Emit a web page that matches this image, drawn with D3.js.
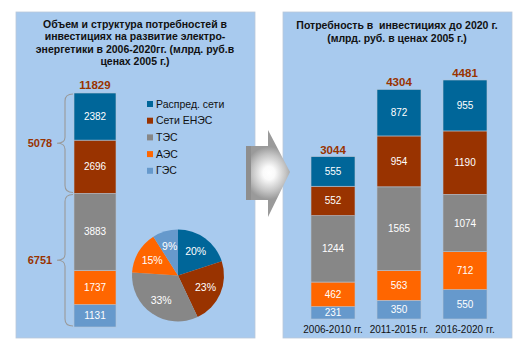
<!DOCTYPE html>
<html>
<head>
<meta charset="utf-8">
<script src="https://cdn.jsdelivr.net/npm/d3@7"></script>
<style>
html,body{margin:0;padding:0;background:#fff;}
svg{display:block;font-family:"Liberation Sans",Arial,sans-serif;}
text{white-space:pre;}
</style>
</head>
<body>
<svg id="chart" width="527" height="353"></svg>
<script>
// ---------- data ----------
const categories = ["Распред. сети", "Сети ЕНЭС", "ТЭС", "АЭС", "ГЭС"];
const colors = ["#006699", "#993300", "#878787", "#ff6600", "#6699cc"];
const totalValues = [2382, 2696, 3883, 1737, 1131];       // 2006-2020 by category
const pieShares = [20, 23, 33, 15, 9];                     // % labels of the pie
const groupNames = ["Сети", "Генерация"];
const groupMembers = [[0, 1], [2, 3, 4]];
const periods = ["2006-2010 гг.", "2011-2015 гг.", "2016-2020 гг."];
const distribValues = [555, 872, 955];
const uesValues = [552, 954, 1190];
const tppValues = [1244, 1565, 1074];
const nppValues = [462, 563, 712];
const hppValues = [231, 350, 550];
const leftTitle = ["Объем и структура потребностей в", "инвестициях на развитие электро-", "энергетики в 2006-2020гг. (млрд. руб.в", "ценах 2005 г.)"];
const rightTitle = ["Потребность в  инвестициях до 2020 г.", "(млрд. руб. в ценах 2005 г.)"];

const svg = d3.select("#chart");
const totalColor = "#993300";

// ---------- panels ----------
svg.append("rect").attr("x", 16).attr("y", 12).attr("width", 239).attr("height", 326)
  .attr("fill", "#a8caee").attr("stroke", "#b9c9d9").attr("stroke-width", 0.8);
svg.append("rect").attr("x", 283).attr("y", 12).attr("width", 229).attr("height", 326)
  .attr("fill", "#a8caee").attr("stroke", "#b9c9d9").attr("stroke-width", 0.8);

// ---------- titles ----------
function title(lines, cx, y0, lh) {
  svg.append("g").selectAll("text").data(lines).join("text")
    .attr("x", cx).attr("y", (d, i) => y0 + i * lh).attr("dy", "0.35em")
    .attr("text-anchor", "middle").attr("font-weight", "bold").attr("font-size", 10.5)
    .attr("fill", "#111").text(d => d);
}
title(leftTitle, 135, 24, 12.6);
title(rightTitle, 397, 25, 13);

// ---------- left stacked bar ----------
const order = [4, 3, 2, 1, 0]; // bottom to top
const leftTotal = d3.sum(totalValues);
const yL = d3.scaleLinear().domain([0, leftTotal]).range([327, 93]);
const xL = d3.scaleBand().domain(["2006-2020"]).range([74, 116]).padding(0);
let acc = 0;
const leftSegs = order.map(i => { const s = {i, y0: acc, y1: acc + totalValues[i]}; acc += totalValues[i]; return s; });
const gL = svg.append("g");
gL.selectAll("rect").data(leftSegs).join("rect")
  .attr("x", xL("2006-2020")).attr("width", xL.bandwidth())
  .attr("y", d => yL(d.y1)).attr("height", d => yL(d.y0) - yL(d.y1))
  .attr("fill", d => colors[d.i]).attr("stroke", "#b4c4d4").attr("stroke-width", 0.6);
gL.selectAll("text").data(leftSegs).join("text")
  .attr("x", xL("2006-2020") + xL.bandwidth() / 2).attr("y", d => yL((d.y0 + d.y1) / 2))
  .attr("dy", "0.35em").attr("text-anchor", "middle").attr("font-size", 10).attr("fill", "#fff")
  .text(d => totalValues[d.i]);
svg.append("text").attr("x", 95).attr("y", yL(leftTotal) - 8).attr("dy", "0.35em")
  .attr("text-anchor", "middle").attr("font-weight", "bold").attr("font-size", 11.5)
  .attr("fill", totalColor).text(leftTotal);

// braces with group totals
const groupRanges = groupMembers.map(m => {
  const segs = leftSegs.filter(s => m.includes(s.i));
  return {lo: d3.min(segs, s => s.y0), hi: d3.max(segs, s => s.y1), sum: d3.sum(m, i => totalValues[i])};
});
function bracePath(yTop, yBot) {
  const xe = 73, xs = 65, xt = 57, ym = (yTop + yBot) / 2;
  return `M${xe},${yTop} Q${xs},${yTop} ${xs},${yTop + 7} L${xs},${ym - 6} Q${xs},${ym} ${xt},${ym} Q${xs},${ym} ${xs},${ym + 6} L${xs},${yBot - 7} Q${xs},${yBot} ${xe},${yBot}`;
}
svg.append("g").selectAll("path").data(groupRanges).join("path")
  .attr("d", d => bracePath(yL(d.hi) + 1, yL(d.lo) - 1))
  .attr("fill", "none").attr("stroke", "#9a9a9a").attr("stroke-width", 1.1);
svg.append("g").selectAll("text").data(groupRanges).join("text")
  .attr("x", 40).attr("y", d => yL((d.lo + d.hi) / 2)).attr("dy", "0.35em")
  .attr("text-anchor", "middle").attr("font-weight", "bold").attr("font-size", 11)
  .attr("fill", totalColor).text(d => d.sum);

// legend
const lg = svg.append("g").selectAll("g").data(categories).join("g")
  .attr("transform", (d, i) => `translate(147,${104 + i * 16.7})`);
lg.append("rect").attr("x", 0).attr("y", -3).attr("width", 6).attr("height", 6).attr("fill", (d, i) => colors[i]);
lg.append("text").attr("x", 9).attr("dy", "0.35em").attr("font-size", 10.5).attr("fill", "#111").text(d => d);

// pie
const pie = d3.pie().sort(null).value(d => d)(pieShares);
const arc = d3.arc().innerRadius(0).outerRadius(46);
const labelArc = d3.arc().innerRadius(30).outerRadius(30);
const gP = svg.append("g").attr("transform", "translate(178,275.5)");
gP.selectAll("path").data(pie).join("path").attr("d", arc).attr("fill", (d, i) => colors[i]);
gP.selectAll("text").data(pie).join("text")
  .attr("transform", d => `translate(${labelArc.centroid(d)})`).attr("dy", "0.35em")
  .attr("text-anchor", "middle").attr("font-size", 10.5).attr("fill", "#fff")
  .text(d => d.data + "%");

// ---------- arrow ----------
const defs = svg.append("defs");
const rg = defs.append("radialGradient").attr("id", "arrowGrad")
  .attr("gradientUnits", "userSpaceOnUse").attr("cx", 269).attr("cy", 173).attr("r", 24)
  .attr("gradientTransform", "translate(269,173) scale(1,1.1) translate(-269,-173)");
rg.append("stop").attr("offset", "0%").attr("stop-color", "#ffffff");
rg.append("stop").attr("offset", "25%").attr("stop-color", "#fafafa");
rg.append("stop").attr("offset", "70%").attr("stop-color", "#c4c4c4");
rg.append("stop").attr("offset", "100%").attr("stop-color", "#9a9a9a");
svg.append("path")
  .attr("d", "M246,146 L268,146 L268,130 L290,172 L268,217 L268,200 L246,200 Z")
  .attr("fill", "url(#arrowGrad)");
svg.append("rect").attr("x", 246).attr("y", 146).attr("width", 5).attr("height", 54).attr("fill", "#8e8e8e");

// ---------- right stacked bars ----------
const series = [hppValues, nppValues, tppValues, uesValues, distribValues];
const seriesColor = [colors[4], colors[3], colors[2], colors[1], colors[0]];
const totals = periods.map((p, j) => d3.sum(series, s => s[j]));
const xR = d3.scaleBand().domain(periods).range([300, 498]).paddingInner(1 / 3).paddingOuter(1 / 6);
const yR = d3.scaleLinear().domain([0, d3.max(totals)]).range([319, 80]);
const table = periods.map((p, j) => { const o = {period: p}; series.forEach((s, k) => o[k] = s[j]); return o; });
const stack = d3.stack().keys(series.map((s, k) => k))(table);
const gR = svg.append("g");
const layers = gR.selectAll("g").data(stack).join("g").attr("fill", (d, k) => seriesColor[k]);
layers.selectAll("rect").data(d => d).join("rect")
  .attr("x", d => xR(d.data.period)).attr("width", xR.bandwidth())
  .attr("y", d => yR(d[1])).attr("height", d => yR(d[0]) - yR(d[1]))
  .attr("stroke", "#b4c4d4").attr("stroke-width", 0.6);
layers.selectAll("text").data((d, k) => d.map(v => ({v, k}))).join("text")
  .attr("x", d => xR(d.v.data.period) + xR.bandwidth() / 2)
  .attr("y", d => yR((d.v[0] + d.v[1]) / 2)).attr("dy", "0.35em")
  .attr("text-anchor", "middle").attr("font-size", 10).attr("fill", "#fff")
  .text(d => d.v[1] - d.v[0]);
gR.selectAll("text.total").data(periods).join("text").attr("class", "total")
  .attr("x", d => xR(d) + xR.bandwidth() / 2).attr("y", (d, j) => yR(totals[j]) - 7).attr("dy", "0.35em")
  .attr("text-anchor", "middle").attr("font-weight", "bold").attr("font-size", 11.5)
  .attr("fill", totalColor).text((d, j) => totals[j]);

const xAxis = d3.axisBottom(xR).tickSize(0).tickPadding(6);
const ax = svg.append("g").attr("transform", "translate(0,320)").call(xAxis);
ax.select(".domain").remove();
ax.selectAll("text").attr("font-size", 10).attr("fill", "#111")
  .attr("font-family", "Liberation Sans, Arial, sans-serif");
</script>
</body>
</html>
